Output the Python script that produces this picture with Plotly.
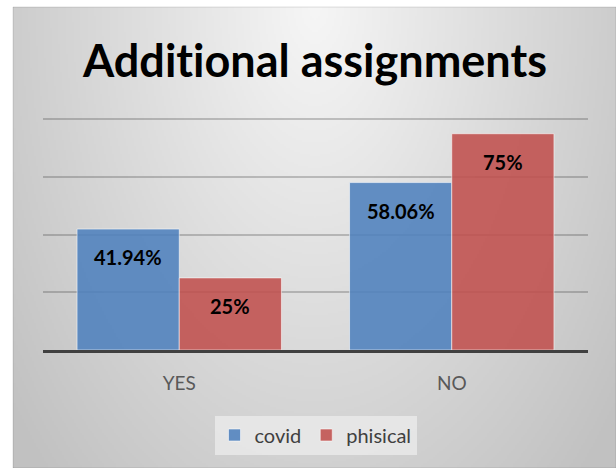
import base64
import struct
import zlib

import numpy as np
import plotly.graph_objects as go

categories = ["YES", "NO"]
covid = [41.94, 58.06]
phisical = [25, 75]
covid_labels = ["41.94%", "58.06%"]
phisical_labels = ["25%", "75%"]

W_FIG, H_FIG = 616, 468
Y_MAX = 81.5
L, R, B = 43, 28, 118
T = 119 - round(231 * (Y_MAX - 80) / 80)
plot_w = W_FIG - L - R
plot_h = H_FIG - T - B


def png_data_uri(arr):
    h, w = arr.shape
    raw = b"".join(b"\x00" + arr[i].astype(np.uint8).tobytes() for i in range(h))

    def chunk(tag, data):
        c = struct.pack(">I", len(data)) + tag + data
        return c + struct.pack(">I", zlib.crc32(tag + data) & 0xFFFFFFFF)

    png = b"\x89PNG\r\n\x1a\n"
    png += chunk(b"IHDR", struct.pack(">IIBBBBB", w, h, 8, 0, 0, 0, 0))
    png += chunk(b"IDAT", zlib.compress(raw, 9))
    png += chunk(b"IEND", b"")
    return "data:image/png;base64," + base64.b64encode(png).decode()


# background radial gradient (chart-area style)
gw, gh = 302, 231
yy, xx = np.mgrid[0:gh, 0:gw]
dx = (xx / (gw - 1) - 0.5) * 603 / 310
dy = (yy / (gh - 1)) * 461 / 520
d = np.sqrt(dx ** 2 + dy ** 2)
grad = np.clip(246 - 42 * np.minimum(d, 1.25), 0, 255)
bg_uri = png_data_uri(grad)

fx0, fy0, fx1, fy1 = 13, 7, 616, 468
base_y = H_FIG - B

fig = go.Figure()
fig.add_trace(go.Bar(
    name="covid", x=categories, y=covid,
    marker=dict(color="rgba(79,129,189,0.88)", line=dict(color="rgba(255,255,255,0.55)", width=1)),
))
fig.add_trace(go.Bar(
    name="phisical", x=categories, y=phisical,
    marker=dict(color="rgba(192,80,77,0.88)", line=dict(color="rgba(255,255,255,0.55)", width=1)),
))

bargap = 0.25
half = (1 - bargap) / 4
annotations = []
for i, cat in enumerate(categories):
    for off, vals, labs in ((-half, covid, covid_labels), (half, phisical, phisical_labels)):
        annotations.append(dict(
            x=i + off, y=vals[i], xref="x", yref="y", text=labs[i], showarrow=False,
            yshift=-28, yanchor="middle",
            font=dict(family="Lato", size=20, color="#000000", weight="bold"),
        ))

fig.update_layout(
    width=W_FIG, height=H_FIG,
    margin=dict(l=L, r=R, t=T, b=B),
    paper_bgcolor="white",
    plot_bgcolor="rgba(0,0,0,0)",
    barmode="group", bargap=bargap, bargroupgap=0,
    title=dict(
        text="<b>Addit\u200cional assignments</b>", x=315 / W_FIG, xanchor="center",
        y=1 - 61 / H_FIG, yanchor="middle", xref="container", yref="container",
        font=dict(family="Lato", size=45, color="#000000"),
    ),
    xaxis=dict(
        showline=True, linecolor="#404040", linewidth=3, showgrid=False,
        tickfont=dict(family="Lato", size=19, color="#595959"),
        ticks="", ticklabelstandoff=14,
    ),
    yaxis=dict(
        range=[0, Y_MAX], tickmode="linear", tick0=0, dtick=20,
        showticklabels=False, showgrid=True,
        gridcolor="rgba(60,60,60,0.27)", gridwidth=2, zeroline=False,
    ),
    legend=dict(
        orientation="h", x=0.5, xanchor="center", y=(base_y - 435) / plot_h, yanchor="middle",
        bgcolor="rgba(236,236,236,0.75)", font=dict(family="Lato", size=20, color="#404040"),
        itemwidth=30, traceorder="normal",
    ),
    annotations=annotations,
    images=[dict(
        source=bg_uri, xref="paper", yref="paper",
        x=(fx0 - L) / plot_w, y=(base_y - fy0) / plot_h,
        sizex=(fx1 - fx0) / plot_w, sizey=(fy1 - fy0) / plot_h,
        sizing="stretch", layer="below", xanchor="left", yanchor="top",
    )],
    shapes=[dict(
        type="rect", xref="paper", yref="paper",
        x0=(fx0 - L) / plot_w, x1=(fx1 - L) / plot_w,
        y0=(base_y - fy1) / plot_h, y1=(base_y - fy0) / plot_h,
        line=dict(color="rgba(0,0,0,0.12)", width=1), fillcolor="rgba(0,0,0,0)", layer="below",
    )],
)

fig.write_html("out.html")
